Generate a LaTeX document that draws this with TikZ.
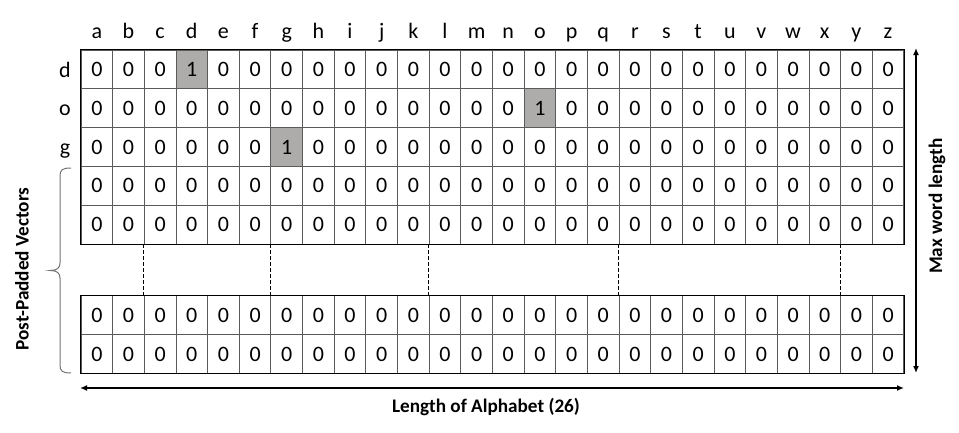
\documentclass[tikz,border=0pt]{standalone}
\usepackage{fontspec}
\setmainfont{Carlito}
\usetikzlibrary{arrows.meta}
\definecolor{shade}{HTML}{AEABAB}
\definecolor{gridc}{HTML}{5A5A5A}
\begin{document}
\begin{tikzpicture}[x=1pt,y=-1pt,
  cell/.style={draw=gridc,line width=0.9pt,minimum width=31.65pt,minimum height=38.8pt,inner sep=0pt,font=\fontsize{22}{25}\selectfont},
  hot/.style={cell,fill=shade},
  lbl/.style={font=\fontsize{22}{25}\selectfont,inner sep=0pt},
  blbl/.style={font=\fontsize{19.2}{22}\selectfont\bfseries,inner sep=0pt},
  dimarrow/.style={line width=1.8pt,{Latex[length=7pt,width=6pt]}-{Latex[length=7pt,width=6pt]}},
  dashline/.style={dash pattern=on 3.5pt off 2.5pt,line width=0.8pt},
  bracec/.style={draw=black!55,line width=1pt}]
\useasboundingbox (0,0) rectangle (959,432);
% column letters
\foreach \l [count=\j from 0] in {a,b,c,d,e,f,g,h,i,j,k,l,m,n,o,p,q,r,s,t,u,v,w,x,y,z}{
  \node[lbl,anchor=base] (col\j) at ({81+31.65*\j+15.8},38) {\l};
}
% rows y-centres
\foreach \r/\yc in {1/69.4,2/108.2,3/147.0,4/185.8,5/224.6,6/315.3,7/354.0}{
  \foreach \j in {0,...,25}{
    \node[cell] (r\r c\j) at ({81+31.65*\j+15.825},\yc) {0};
  }
}
% highlighted ones
\node[hot] (h1) at (r1c3) {1};
\node[hot] (h2) at (r2c14) {1};
\node[hot] (h3) at (r3c6) {1};
% outer border
\draw[line width=1pt,black] (r1c0.north west) rectangle (r5c25.south east);
\draw[line width=1pt,black] (r6c0.north west) rectangle (r7c25.south east);
% row labels
\node[lbl,anchor=base] (ld) at (65,77) {d};
\node[lbl,anchor=base] (lo) at (65,115.8) {o};
\node[lbl,anchor=base] (lg) at (65,154.5) {g};
% dashed continuation lines
\foreach \j in {2,6,11,17,24}{
  \draw[dashline] (r5c\j.south west) -- (r6c\j.north west);
}
% brace
\coordinate (bt) at (71,168);
\coordinate (bb) at (71,373);
\coordinate (btip) at (50,270.5);
\draw[bracec] (bt) .. controls (62,168) and (60,170) .. (60,176) -- (60,263)
  .. controls (60,268) and (57,270.5) .. (btip)
  .. controls (57,270.5) and (60,273) .. (60,278) -- (60,365)
  .. controls (60,371) and (62,373) .. (bb);
% dimension arrows
\coordinate (vt) at (916,48);
\coordinate (vb) at (916,373);
\draw[dimarrow] (vt) -- (vb);
\coordinate (hl) at (80,388);
\coordinate (hr) at (904,388);
\draw[dimarrow] (hl) -- (hr);
% labels
\node[blbl,rotate=90] (mwl) at (937,206) {Max word length};
\node[blbl,rotate=90] (ppv) at (22,269) {Post-Padded Vectors};
\node[blbl] (loa) at (486,407) {Length of Alphabet (26)};
\end{tikzpicture}
\end{document}
